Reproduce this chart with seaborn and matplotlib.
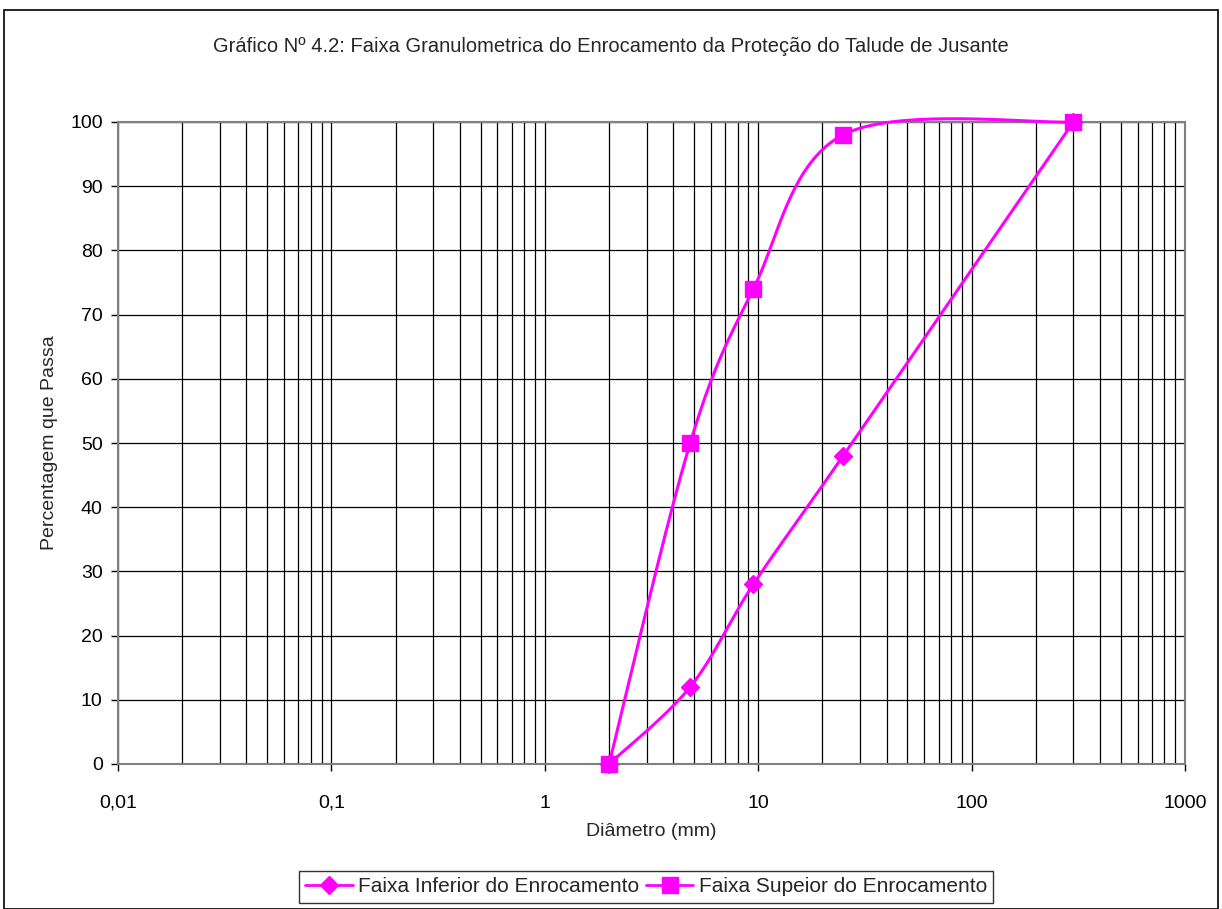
import numpy as np
import pandas as pd
import matplotlib
matplotlib.use("Agg")
import matplotlib.pyplot as plt
import seaborn as sns
from matplotlib.lines import Line2D
from matplotlib.patches import Rectangle
from matplotlib.ticker import FixedLocator, FixedFormatter, NullFormatter

# ---- data ----
diametro = [2, 4.8, 9.5, 25, 300]
faixa_inferior = [0, 12, 28, 48, 100]
faixa_superior = [0, 50, 74, 98, 100]
serie_nomes = ["Faixa Inferior do Enrocamento", "Faixa Supeior do Enrocamento"]
x_tick_vals = [0.01, 0.1, 1, 10, 100, 1000]
x_tick_labels = ["0,01", "0,1", "1", "10", "100", "1000"]
y_ticks = list(range(0, 101, 10))

COLOR = "#FF00FF"

sns.set_theme(style="white")
plt.rcParams["font.family"] = ["Liberation Sans", "DejaVu Sans"]

fig = plt.figure(figsize=(12.22, 9.09), dpi=100)
ax = fig.add_axes([118/1222, 1-764/909, (1185-118)/1222, (764-122)/909])

# screen-space scaling for Excel-like smoothing (px per decade, px per y unit)
SX = (1185-118)/5.0
SY = (764-122)/100.0

def smooth(xs, ys, n=40):
    px = np.log10(np.array(xs, float)) * SX
    py = np.array(ys, float) * SY
    P = np.column_stack([px, py])
    m = len(P)
    out = []
    for i in range(m-1):
        p0 = P[i-1] if i > 0 else P[i]
        p1 = P[i]
        p2 = P[i+1]
        p3 = P[i+2] if i+2 < m else P[i+1]
        c1 = p1 + (p2 - p0) / 6.0
        c2 = p2 - (p3 - p1) / 6.0
        t = np.linspace(0, 1, n)[:, None]
        seg = ((1-t)**3)*p1 + 3*((1-t)**2)*t*c1 + 3*(1-t)*(t**2)*c2 + (t**3)*p2
        out.append(seg if i == 0 else seg[1:])
    S = np.vstack(out)
    return 10**(S[:, 0]/SX), S[:, 1]/SY

for ys, mk, ms in [(faixa_inferior, "D", 9), (faixa_superior, "s", 11)]:
    sx, sy = smooth(diametro, ys)
    df = pd.DataFrame({"x": sx, "y": sy})
    sns.lineplot(data=df, x="x", y="y", sort=False, estimator=None, ax=ax,
                 color=COLOR, lw=2.2, zorder=3)
    ax.plot(diametro, ys, linestyle="none", marker=mk, markersize=ms,
            color=COLOR, markeredgecolor=COLOR, zorder=4, clip_on=False)
for ln in ax.get_lines():
    ln.set_clip_on(False)

ax.set_xscale("log")
ax.set_xlim(0.01, 1000)
ax.set_ylim(0, 100)
ax.xaxis.set_major_locator(FixedLocator(x_tick_vals))
ax.xaxis.set_major_formatter(FixedFormatter(x_tick_labels))
minors = [m * 10.0**e for e in range(-2, 3) for m in range(2, 10)]
ax.xaxis.set_minor_locator(FixedLocator(minors))
ax.xaxis.set_minor_formatter(NullFormatter())
ax.set_yticks(y_ticks)

ax.grid(True, which="both", axis="x", color="black", lw=0.9)
ax.grid(True, which="major", axis="y", color="black", lw=0.9)
ax.set_axisbelow(True)
for s in ax.spines.values():
    s.set_color("#808080")
    s.set_linewidth(1.5)

ax.tick_params(axis="both", which="major", labelsize=14, colors="black",
               length=5, width=1, direction="out", bottom=True, left=True)
ax.tick_params(axis="x", which="minor", length=0)
ax.tick_params(axis="x", pad=17)
ax.tick_params(axis="y", pad=6)

ax.set_xlabel("Diâmetro (mm)", fontsize=14, labelpad=8)
ax.set_ylabel("Percentagem que Passa", fontsize=14, labelpad=9)
fig.text(0.5, 1-47/909, "Gráfico Nº 4.2: Faixa Granulometrica do Enrocamento da Proteção do Talude de Jusante",
         ha="center", va="center", fontsize=14.5)

handles = [Line2D([0], [0], color=COLOR, lw=2, marker="D", markersize=9),
           Line2D([0], [0], color=COLOR, lw=2, marker="s", markersize=11)]
leg = fig.legend(handles, serie_nomes, loc="center", bbox_to_anchor=(646/1222, 1-887/909),
                 ncol=2, fontsize=15, frameon=True, fancybox=False, handlelength=2.3,
                 columnspacing=0.3, handletextpad=0.25, borderpad=0.3)
leg.get_frame().set_edgecolor("black")
leg.get_frame().set_linewidth(1)

# outer chart border
fig.patches.append(Rectangle((4/1222, 0), 1214/1222, 1-10/909, transform=fig.transFigure,
                             fill=False, edgecolor="black", lw=1.2))

fig.savefig("out.png", dpi=100, facecolor="white")
